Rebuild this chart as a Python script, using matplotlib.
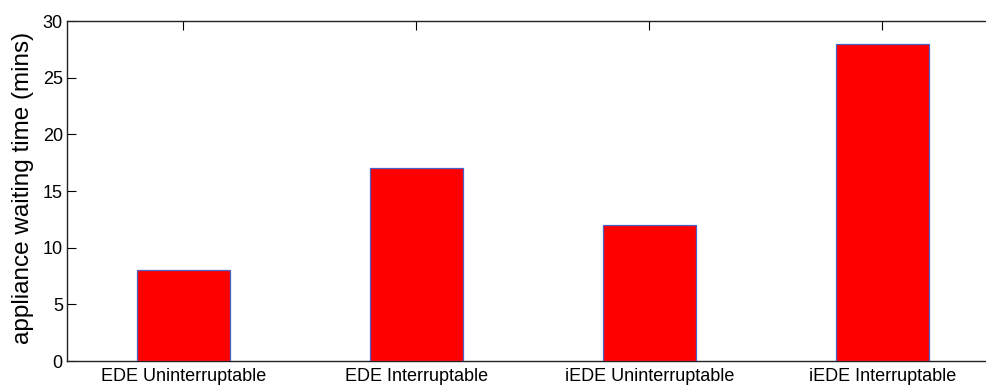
import matplotlib
matplotlib.use("Agg")
import matplotlib.pyplot as plt

plt.rcParams['font.family'] = ['Liberation Sans', 'DejaVu Sans']

# mean appliance waiting time per scheduling scheme
schemes = ['EDE Uninterruptable', 'EDE Interruptable',
           'iEDE Uninterruptable', 'iEDE Interruptable']
wait_mins = [8, 17, 12, 28]
yticks = [0, 5, 10, 15, 20, 25, 30]

fig = plt.figure(figsize=(9.87, 3.86), dpi=100)
ax = fig.add_axes([67 / 987, 25 / 386, 932 / 987, 340 / 386])

pos = list(range(1, len(schemes) + 1))
ax.bar(pos, wait_mins, width=0.4, color='#ff0000',
       edgecolor='#4a62c8', linewidth=0.9, zorder=3)

ax.set_xlim(0.5, 4.5)
ax.set_ylim(0, 30)
ax.set_yticks(yticks)
ax.set_xticks(pos)
ax.set_xticklabels(schemes)
ax.set_ylabel('appliance waiting time (mins)', fontsize=17.5)
ax.yaxis.set_label_coords(-0.0354, 0.51)

for side in ['left', 'top', 'bottom']:
    ax.spines[side].set_linewidth(1.0)
    ax.spines[side].set_color('#222222')
ax.spines['right'].set_visible(False)

ax.tick_params(axis='y', direction='in', length=6.5, width=0.8,
               labelsize=13, pad=3, right=False)
ax.tick_params(axis='x', direction='in', length=0, labelsize=13, pad=5,
               top=False)

# inward ticks along the top edge at the bar centres
top = ax.secondary_xaxis('top')
top.set_xticks(pos)
top.set_xticklabels([])
top.tick_params(direction='in', length=6.5, width=0.8)
top.spines['top'].set_visible(False)

fig.savefig('out.png', dpi=100)
